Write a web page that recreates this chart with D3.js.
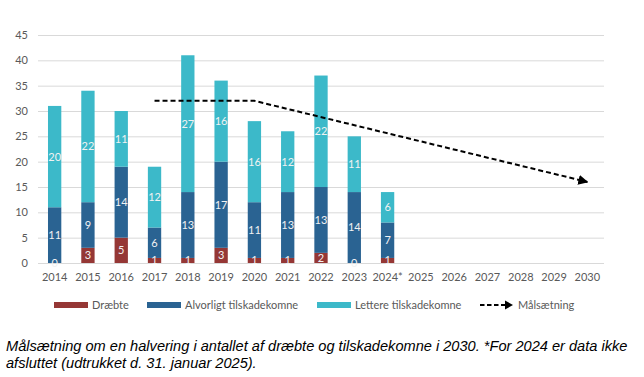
<!DOCTYPE html>
<html><head><meta charset="utf-8">
<script src="https://cdn.jsdelivr.net/npm/d3@7"></script>
<style>body{margin:0;background:#fff}svg{display:block}</style>
</head><body>
<svg id="c" width="644" height="377"></svg>
<script>
const categories = ["2014","2015","2016","2017","2018","2019","2020","2021","2022","2023","2024*","2025","2026","2027","2028","2029","2030"];
const dataYears = ["2014","2015","2016","2017","2018","2019","2020","2021","2022","2023","2024*"];
const draebte    = [0,3,5,1,1,3,1,1,2,0,1];
const alvorligt  = [11,9,14,6,13,17,11,13,13,14,7];
const lettere    = [20,22,11,12,27,16,16,12,22,11,6];
const targetYears = ["2017","2020","2030"];
const targetValues = [32,32,16];
const yTicks = [0,5,10,15,20,25,30,35,40,45];
const seriesNames = ["Dræbte","Alvorligt tilskadekomne","Lettere tilskadekomne"];
const colors = ["#953735","#2a6392","#3cb9c9"];
const lineName = "Målsætning";

const svg = d3.select("#c");
const font = "Lato, 'Open Sans', sans-serif";
const x = d3.scaleBand().domain(categories).range([38,604]).paddingInner(0.6).paddingOuter(0.3);
const xc = d => x(d) + x.bandwidth()/2;
const y = d3.scaleLinear().domain([0,45]).range([263,35]);

// gridlines
svg.append("g").selectAll("line").data(yTicks).join("line")
  .attr("x1",38).attr("x2",604).attr("y1",d=>y(d)+0.5).attr("y2",d=>y(d)+0.5)
  .attr("stroke","#d9d9d9").attr("stroke-width",1);

// y axis labels
const ya = svg.append("g").attr("transform","translate(28,0)")
  .call(d3.axisLeft(y).tickValues(yTicks).tickSize(0).tickPadding(0));
ya.select(".domain").remove();
ya.selectAll("text").attr("font-family",font).attr("font-size",11).attr("fill","#595959");

// x axis labels
const xa = svg.append("g").attr("transform","translate(0,263)")
  .call(d3.axisBottom(x).tickSize(0).tickPadding(10));
xa.select(".domain").remove();
xa.selectAll("text").attr("font-family",font).attr("font-size",11).attr("fill","#595959");

// stacked bars
const rows = dataYears.map((yr,i)=>({year:yr, d:draebte[i], a:alvorligt[i], l:lettere[i]}));
const stack = d3.stack().keys(["d","a","l"])(rows);
const g = svg.append("g");
stack.forEach((s,si)=>{
  g.append("g").selectAll("rect").data(s).join("rect")
    .attr("x",d=>x(d.data.year)).attr("width",x.bandwidth())
    .attr("y",d=>y(d[1])).attr("height",d=>y(d[0])-y(d[1]))
    .attr("fill",colors[si]);
});
const lg = svg.append("g");
stack.forEach((s,si)=>{
  lg.append("g").selectAll("text").data(s).join("text")
    .attr("x",d=>xc(d.data.year)).attr("y",d=>(y(d[0])+y(d[1]))/2)
    .attr("dy","0.36em").attr("text-anchor","middle")
    .attr("font-family",font).attr("font-size",11).attr("fill","#f2f2f2")
    .text(d=>d[1]-d[0]);
});

// target line
const defs = svg.append("defs");
defs.append("marker").attr("id","arr").attr("viewBox","0 0 10 10").attr("refX",9).attr("refY",5)
  .attr("markerWidth",5).attr("markerHeight",5).attr("orient","auto")
  .append("path").attr("d","M0,0 L10,5 L0,10 z").attr("fill","#000");
const line = d3.line().x(d=>xc(d[0])).y(d=>y(d[1]));
svg.append("path").datum(targetYears.map((t,i)=>[t,targetValues[i]]))
  .attr("d",line).attr("fill","none").attr("stroke","#000").attr("stroke-width",2)
  .attr("stroke-dasharray","5,3").attr("marker-end","url(#arr)");

// legend
const leg = svg.append("g").attr("font-family",font).attr("font-size",11).attr("fill","#595959");
const legX = [54,147,317];
seriesNames.forEach((n,i)=>{
  leg.append("rect").attr("x",legX[i]).attr("y",302).attr("width",34).attr("height",6).attr("fill",colors[i]);
  leg.append("text").attr("x",legX[i]+38).attr("y",305).attr("dy","0.36em").text(n);
});
leg.append("line").attr("x1",480).attr("x2",506).attr("y1",305).attr("y2",305)
  .attr("stroke","#000").attr("stroke-width",2).attr("stroke-dasharray","4.5,2.5");
leg.append("path").attr("d","M505,300.5 L513,305 L505,309.5 z").attr("fill","#000");
leg.append("text").attr("x",518).attr("y",305).attr("dy","0.36em").text(lineName);

// caption
const cap = svg.append("g").attr("font-family","'Liberation Sans', Arial, sans-serif")
  .attr("font-size",14.6).attr("font-style","italic").attr("fill","#000");
cap.append("text").attr("x",6).attr("y",351).text("Målsætning om en halvering i antallet af dræbte og tilskadekomne i 2030. *For 2024 er data ikke");
cap.append("text").attr("x",6).attr("y",368).text("afsluttet (udtrukket d. 31. januar 2025).");
</script>
</body></html>
